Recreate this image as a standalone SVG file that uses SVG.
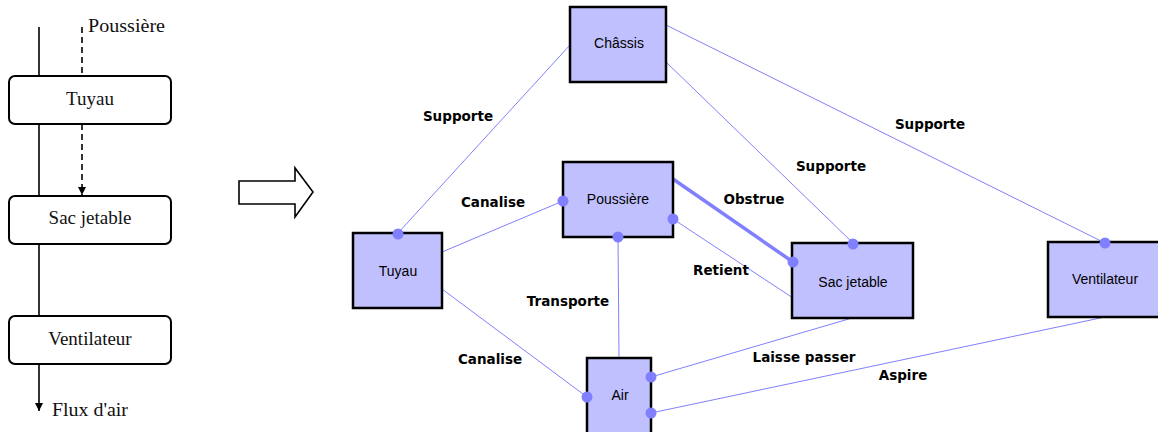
<svg xmlns="http://www.w3.org/2000/svg" width="1158" height="432" viewBox="0 0 1158 432">
<defs>
<style>
.lbox{fill:#fff;stroke:#000;stroke-width:2}
.ltxt{font-family:"Liberation Serif",serif;font-size:19px;fill:#111;text-anchor:middle}
.sline{stroke:#000;stroke-width:1.6;fill:none}
.dline{stroke:#000;stroke-width:1.6;fill:none;stroke-dasharray:6 4}
.node{fill:#C0C0FF;stroke:#000;stroke-width:2.5}
.ntxt{font-family:"Liberation Sans",Arial,sans-serif;font-size:14px;fill:#000;text-anchor:middle}
.conn{stroke:#8080FF;stroke-width:1;fill:none}
.thick{stroke:#8080FF;stroke-width:3.5;fill:none}
.dot{fill:#8080FF}
.lab{font-family:"DejaVu Sans",Verdana,sans-serif;font-weight:bold;font-size:13.5px;fill:#000;text-anchor:middle}
</style>
<marker id="ah" viewBox="0 0 10 10" refX="10" refY="5" markerWidth="8" markerHeight="8" markerUnits="userSpaceOnUse" orient="auto">
<path d="M0,0 L10,5 L0,10 z" fill="#000"/>
</marker>
</defs>
<rect width="1158" height="432" fill="#fff"/>

<g id="left-flow">
<line class="sline" x1="39" y1="27" x2="39" y2="76"/>
<line class="sline" x1="39" y1="124" x2="39" y2="196"/>
<line class="sline" x1="39" y1="244" x2="39" y2="316"/>
<line class="sline" x1="39" y1="364" x2="39" y2="411" marker-end="url(#ah)"/>
<line class="dline" x1="82" y1="27" x2="82" y2="76"/>
<line class="dline" x1="82" y1="124" x2="82" y2="195" marker-end="url(#ah)"/>
<text class="ltxt" x="88" y="32" style="text-anchor:start" textLength="77" lengthAdjust="spacingAndGlyphs">Poussière</text>
<text class="ltxt" x="52" y="416" style="text-anchor:start" textLength="76" lengthAdjust="spacingAndGlyphs">Flux d'air</text>
</g>
<g id="l-tuyau"><rect class="lbox" x="9" y="76" width="162" height="48" rx="6"/><text class="ltxt" x="90" y="105">Tuyau</text></g>
<g id="l-sac"><rect class="lbox" x="9" y="196" width="162" height="48" rx="6"/><text class="ltxt" x="90" y="224">Sac jetable</text></g>
<g id="l-vent"><rect class="lbox" x="9" y="316" width="162" height="48" rx="6"/><text class="ltxt" x="90" y="345">Ventilateur</text></g>

<g id="big-arrow">
<path d="M239,181 L295,181 L295,168 L313,192 L295,217 L295,204 L239,204 Z" fill="#fff" stroke="#000" stroke-width="1.6"/>
</g>

<g id="connectors">
<line class="conn" x1="570" y1="45" x2="398" y2="233"/>
<line class="conn" x1="666" y1="25" x2="1105" y2="243"/>
<line class="conn" x1="666" y1="62" x2="853" y2="243"/>
<line class="conn" x1="442" y1="252" x2="563" y2="201"/>
<line class="thick" x1="673" y1="179" x2="793" y2="262"/>
<line class="conn" x1="673" y1="219" x2="793" y2="298"/>
<line class="conn" x1="618" y1="237" x2="619" y2="358"/>
<line class="conn" x1="442" y1="289" x2="587" y2="397"/>
<line class="conn" x1="852" y1="318" x2="651" y2="377"/>
<line class="conn" x1="1105" y1="317" x2="651" y2="413"/>
<text class="lab" x="458" y="121">Supporte</text>
<text class="lab" x="930" y="129">Supporte</text>
<text class="lab" x="831" y="171">Supporte</text>
<text class="lab" x="493" y="207">Canalise</text>
<text class="lab" x="754" y="204">Obstrue</text>
<text class="lab" x="721" y="275">Retient</text>
<text class="lab" x="568" y="306">Transporte</text>
<text class="lab" x="490" y="364">Canalise</text>
<text class="lab" x="804" y="362">Laisse passer</text>
<text class="lab" x="903" y="380">Aspire</text>
</g>

<g id="n-chassis"><rect class="node" x="570" y="7" width="96" height="75"/><text class="ntxt" x="619" y="48">Châssis</text></g>
<g id="n-poussiere"><rect class="node" x="563" y="162" width="110" height="75"/><text class="ntxt" x="618" y="204">Poussière</text></g>
<g id="n-tuyau"><rect class="node" x="353" y="233" width="89" height="75"/><text class="ntxt" x="398" y="276">Tuyau</text></g>
<g id="n-air"><rect class="node" x="587" y="358" width="64" height="80"/><text class="ntxt" x="620" y="400">Air</text></g>
<g id="n-sac"><rect class="node" x="792" y="243" width="121" height="75"/><text class="ntxt" x="853" y="287">Sac jetable</text></g>
<g id="n-vent"><rect class="node" x="1048" y="242" width="114" height="75"/><text class="ntxt" x="1105" y="284">Ventilateur</text></g>

<g id="dots">
<circle class="dot" cx="398" cy="234" r="5.5"/>
<circle class="dot" cx="1105" cy="243" r="5.5"/>
<circle class="dot" cx="853" cy="244" r="5.5"/>
<circle class="dot" cx="563" cy="201" r="5.5"/>
<circle class="dot" cx="793" cy="262" r="5.5"/>
<circle class="dot" cx="673" cy="219" r="5.5"/>
<circle class="dot" cx="618" cy="237" r="5.5"/>
<circle class="dot" cx="587" cy="397" r="5.5"/>
<circle class="dot" cx="651" cy="377" r="5.5"/>
<circle class="dot" cx="651" cy="413" r="5.5"/>
</g>
</svg>
